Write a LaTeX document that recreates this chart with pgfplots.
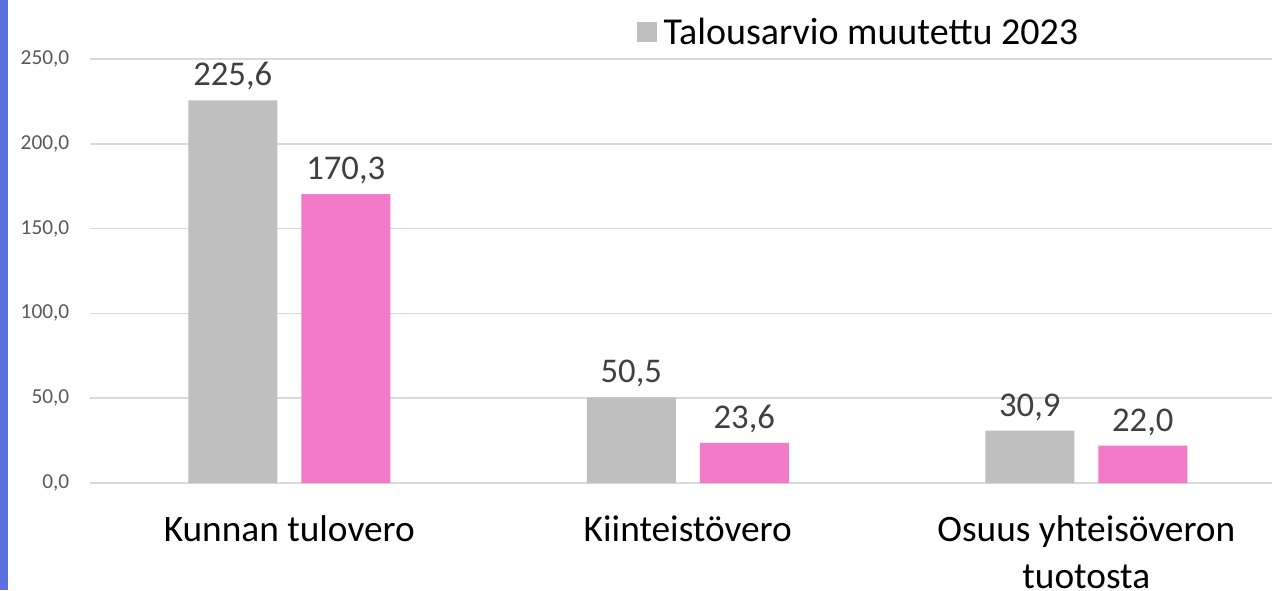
\documentclass[border=0pt]{standalone}
\usepackage{fontspec}
\setmainfont{Carlito}
\usepackage{pgfplots}
\pgfplotsset{compat=1.18}
\definecolor{barGray}{RGB}{191,191,191}
\definecolor{barPink}{RGB}{242,122,200}
\definecolor{gridGray}{RGB}{217,217,217}
\definecolor{edgeBlue}{RGB}{90,112,222}
\definecolor{tickText}{RGB}{89,89,89}
\definecolor{valText}{RGB}{64,64,64}

\begin{document}
\begin{tikzpicture}
% page = 1272 x 590 px, 1px = 0.75pt
\useasboundingbox (0,0) rectangle (954pt,442.5pt);
\fill[edgeBlue] (0,0) rectangle (6pt,442.5pt);
\begin{axis}[
    at={(67.5pt,80.25pt)},
    anchor=south west,
    scale only axis,
    width=886.5pt,
    height=318pt,
    ybar=18pt,
    bar width=66.75pt,
    xmin=-0.5, xmax=2.466,
    ymin=0, ymax=250,
    ytick={0,50,...,250},
    xtick={0,1,2},
    xticklabels={Kunnan tulovero, Kiinteistövero, {Osuus yhteisöveron\\tuotosta}},
    x tick label style={align=center, font=\fontsize{28}{35}\selectfont, text=black, yshift=-21pt},
    y tick label style={font=\fontsize{16}{18}\selectfont, text=tickText, xshift=-12pt},
    /pgf/number format/assume math mode=true,
    yticklabel={\pgfmathprintnumber[fixed,fixed zerofill,precision=1,use comma]{\tick}},
    axis line style={draw=none},
    major tick length=0pt,
    ymajorgrids=true,
    grid style={draw=gridGray, line width=1.2pt},
    clip=false,
    nodes near coords={\pgfmathprintnumber[fixed,fixed zerofill,precision=1,use comma]{\pgfplotspointmeta}},
    nodes near coords style={font=\fontsize{26}{28}\selectfont, text=valText, yshift=4pt},
    legend style={at={(0.4625,1.064)}, anchor=west, draw=none, fill=none,
        font=\fontsize{28.5}{30}\selectfont, inner sep=0pt},
    legend image code/.code={\fill[#1] (0pt,-7.5pt) rectangle (15pt,7.5pt);},
    legend cell align=left,
]
\addplot[fill=barGray, draw=none] coordinates {(0,225.6) (1,50.5) (2,30.9)};
\addlegendentry{\hspace{3pt}Talousarvio muutettu 2023}
\addplot[fill=barPink, draw=none] coordinates {(0,170.3) (1,23.6) (2,22.0)};
\end{axis}
\end{tikzpicture}
\end{document}
